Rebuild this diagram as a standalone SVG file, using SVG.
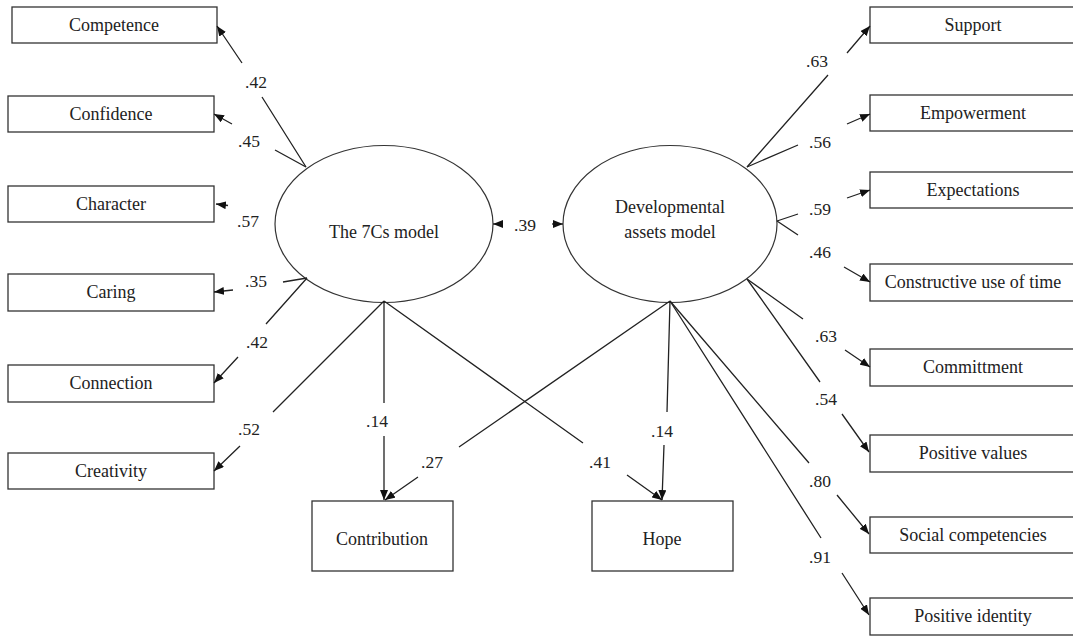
<svg xmlns="http://www.w3.org/2000/svg" width="1073" height="636" viewBox="0 0 1073 636">
  <style>
    text { font-family: "Liberation Serif", "Times New Roman", serif; font-size: 18px; fill: #222; text-anchor: middle; }
    .box { fill: #fff; stroke: #333; stroke-width: 1.3; }
    .latent { fill: #fff; stroke: #333; stroke-width: 1.2; }
    .edge { fill: none; stroke: #222; stroke-width: 1.3; marker-end: url(#arrow); }
    .coef { font-size: 17.5px; }
  </style>
  <defs>
    <marker id="arrow" viewBox="0 0 10 8" refX="10" refY="4" markerWidth="10" markerHeight="8" markerUnits="userSpaceOnUse" orient="auto">
      <path d="M0,0 L10,4 L0,8 z" fill="#111"/>
    </marker>
  </defs>

  <rect width="1073" height="636" fill="#fff"/>

  <!-- latent factors -->
  <g id="seven-cs">
    <ellipse class="latent" cx="384" cy="224" rx="109" ry="78.5"/>
    <text x="384" y="238">The 7Cs model</text>
  </g>
  <g id="dev-assets">
    <ellipse class="latent" cx="670" cy="224" rx="107" ry="78.5"/>
    <text x="670" y="213">Developmental</text>
    <text x="670" y="238">assets model</text>
  </g>

  <!-- 7Cs indicators -->
  <g id="competence"><rect class="box" x="12" y="7" width="205" height="36"/><text x="114" y="31">Competence</text></g>
  <g id="confidence"><rect class="box" x="8" y="96" width="206" height="36"/><text x="111" y="120">Confidence</text></g>
  <g id="character"><rect class="box" x="8" y="186" width="206" height="36"/><text x="111" y="210">Character</text></g>
  <g id="caring"><rect class="box" x="8" y="274" width="206" height="37"/><text x="111" y="298">Caring</text></g>
  <g id="connection"><rect class="box" x="8" y="365" width="206" height="37"/><text x="111" y="389">Connection</text></g>
  <g id="creativity"><rect class="box" x="8" y="453" width="206" height="36"/><text x="111" y="477">Creativity</text></g>

  <!-- outcomes -->
  <g id="contribution"><rect class="box" x="312" y="501" width="141" height="70"/><text x="382" y="545">Contribution</text></g>
  <g id="hope"><rect class="box" x="592" y="501" width="141" height="70"/><text x="662" y="545">Hope</text></g>

  <!-- developmental asset indicators -->
  <g id="support"><rect class="box" x="870" y="7" width="206" height="36"/><text x="973" y="31">Support</text></g>
  <g id="empowerment"><rect class="box" x="870" y="95" width="206" height="36"/><text x="973" y="119">Empowerment</text></g>
  <g id="expectations"><rect class="box" x="870" y="172" width="206" height="36"/><text x="973" y="196">Expectations</text></g>
  <g id="constructive-time"><rect class="box" x="870" y="264" width="206" height="37"/><text x="973" y="288">Constructive use of time</text></g>
  <g id="commitment"><rect class="box" x="870" y="349" width="206" height="37"/><text x="973" y="373">Committment</text></g>
  <g id="positive-values"><rect class="box" x="870" y="435" width="206" height="37"/><text x="973" y="459">Positive values</text></g>
  <g id="social-competencies"><rect class="box" x="870" y="517" width="206" height="36"/><text x="973" y="541">Social competencies</text></g>
  <g id="positive-identity"><rect class="box" x="870" y="598" width="206" height="37"/><text x="973" y="622">Positive identity</text></g>

  <!-- paths, broken where the coefficient sits -->
  <g id="connectors">
    <path class="edge" d="M306,167 L262,97 M242,63 L217,26"/>
    <path class="edge" d="M306,167 L275,150 M232,124 L214,114"/>
    <path class="edge" d="M228,205.5 L216,204"/>
    <path class="edge" d="M307,278 L283,282 M233,290 L214,292"/>
    <path class="edge" d="M307,278 L266,324 M238,357 L214,383"/>
    <path class="edge" d="M384,301 L273,412 M240,446 L214,471"/>
    <path class="edge" d="M384,301 L384,403 M384,436 L384,500"/>
    <path class="edge" d="M384,301 L583,443 M627,475 L662,500"/>
    <path class="edge" d="M670,301 L459,447 M418,477 L385,500"/>
    <path class="edge" d="M670,301 L667,412 M664,445 L662,500"/>
    <path class="edge" d="M503,224 L493,224"/>
    <path class="edge" d="M552,224 L563,224"/>
    <path class="edge" d="M747,167 L828,75 M847,53 L870,26"/>
    <path class="edge" d="M747,167 L798,145 M847,124 L870,114"/>
    <path class="edge" d="M777,221 L798,214 M847,198 L870,190"/>
    <path class="edge" d="M777,221 L798,235 M844,267 L870,282"/>
    <path class="edge" d="M747,279 L803,319 M845,350 L870,367"/>
    <path class="edge" d="M747,279 L820,382 M842,414 L869,452"/>
    <path class="edge" d="M670,301 L809,463 M837,495 L869,534"/>
    <path class="edge" d="M670,301 L821,538 M842,573 L869,615"/>
  </g>

  <!-- standardized coefficients -->
  <g id="coefficients" class="coef">
    <text class="coef" x="256" y="88">.42</text>
    <text class="coef" x="249" y="147">.45</text>
    <text class="coef" x="248" y="227">.57</text>
    <text class="coef" x="256" y="287">.35</text>
    <text class="coef" x="257" y="348">.42</text>
    <text class="coef" x="249" y="435">.52</text>
    <text class="coef" x="377" y="427">.14</text>
    <text class="coef" x="432" y="468">.27</text>
    <text class="coef" x="600" y="468">.41</text>
    <text class="coef" x="662" y="437">.14</text>
    <text class="coef" x="525" y="231">.39</text>
    <text class="coef" x="817" y="67">.63</text>
    <text class="coef" x="820" y="148">.56</text>
    <text class="coef" x="820" y="215">.59</text>
    <text class="coef" x="820" y="258">.46</text>
    <text class="coef" x="826" y="342">.63</text>
    <text class="coef" x="826" y="405">.54</text>
    <text class="coef" x="820" y="487">.80</text>
    <text class="coef" x="820" y="563">.91</text>
  </g>
</svg>
